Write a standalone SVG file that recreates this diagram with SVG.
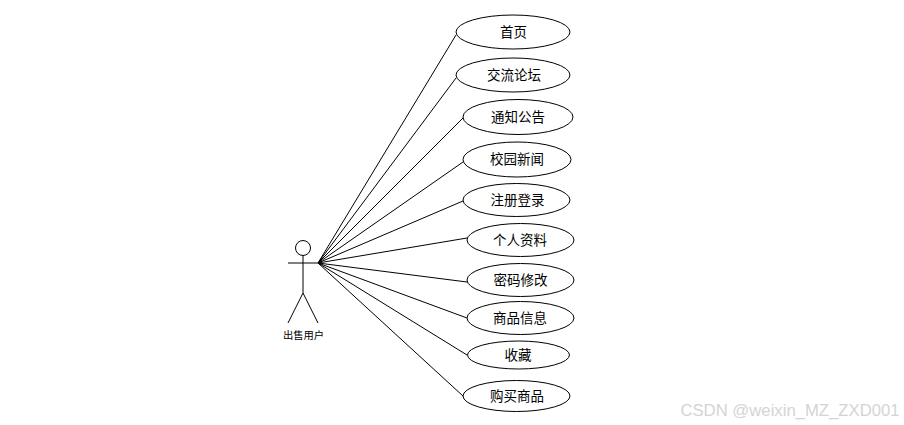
<svg xmlns="http://www.w3.org/2000/svg" width="904" height="425" viewBox="0 0 904 425">
<style>
.n{fill:#fff;stroke:#000;stroke-width:1}
.a{fill:none;stroke:#000;stroke-width:1}
.c line{stroke:#000;stroke-width:1}
text{font-family:"Noto Sans CJK SC","Liberation Sans",sans-serif;fill:#000;text-anchor:middle}
.l{font-size:13.500px}
</style>
<rect width="904" height="425" fill="#fff"/>
<g id="connectors" class="c">
<line x1="318" y1="263" x2="456" y2="35"/>
<line x1="318" y1="263" x2="456" y2="78"/>
<line x1="318" y1="263" x2="463" y2="118"/>
<line x1="318" y1="263" x2="463" y2="162"/>
<line x1="318" y1="263" x2="463" y2="201"/>
<line x1="318" y1="263" x2="467" y2="238"/>
<line x1="318" y1="263" x2="467" y2="282"/>
<line x1="318" y1="263" x2="467" y2="318"/>
<line x1="318" y1="263" x2="467" y2="355"/>
<line x1="318" y1="263" x2="463" y2="396"/>
</g>
<g id="actor">
<circle class="a" cx="303" cy="248" r="7.500"/>
<line class="a" x1="303" y1="255.500" x2="303" y2="293"/>
<line class="a" x1="288" y1="263" x2="318" y2="263"/>
<line class="a" x1="303" y1="293" x2="288" y2="323"/>
<line class="a" x1="303" y1="293" x2="318" y2="323"/>
<text x="303.500" y="339" font-size="10.300px">出售用户</text>
</g>
<g id="n1"><ellipse class="n" cx="513" cy="32" rx="57" ry="17"/><text class="l" x="513.500" y="36.500">首页</text></g>
<g id="n2"><ellipse class="n" cx="513" cy="75" rx="57" ry="17"/><text class="l" x="514" y="79.500">交流论坛</text></g>
<g id="n3"><ellipse class="n" cx="518" cy="117" rx="55" ry="17.500"/><text class="l" x="518" y="122">通知公告</text></g>
<g id="n4"><ellipse class="n" cx="517" cy="159.500" rx="54" ry="17.500"/><text class="l" x="517" y="164">校园新闻</text></g>
<g id="n5"><ellipse class="n" cx="516.500" cy="200" rx="53.500" ry="16.500"/><text class="l" x="517.500" y="204.500">注册登录</text></g>
<g id="n6"><ellipse class="n" cx="520.500" cy="240" rx="53.500" ry="16.500"/><text class="l" x="520" y="244.500">个人资料</text></g>
<g id="n7"><ellipse class="n" cx="520.500" cy="280" rx="53.500" ry="16.500"/><text class="l" x="520.500" y="284.500">密码修改</text></g>
<g id="n8"><ellipse class="n" cx="520.500" cy="318" rx="53.500" ry="16.500"/><text class="l" x="520" y="322.500">商品信息</text></g>
<g id="n9"><ellipse class="n" cx="518.500" cy="355" rx="51" ry="14"/><text class="l" x="518" y="359.500">收藏</text></g>
<g id="n10"><ellipse class="n" cx="516.500" cy="396" rx="53.500" ry="15.500"/><text class="l" x="517" y="400.500">购买商品</text></g>
<text x="790" y="416" font-size="16.700px" style="font-family:'Liberation Sans',sans-serif;fill:#d4d4d4">CSDN @weixin_MZ_ZXD001</text>
</svg>
